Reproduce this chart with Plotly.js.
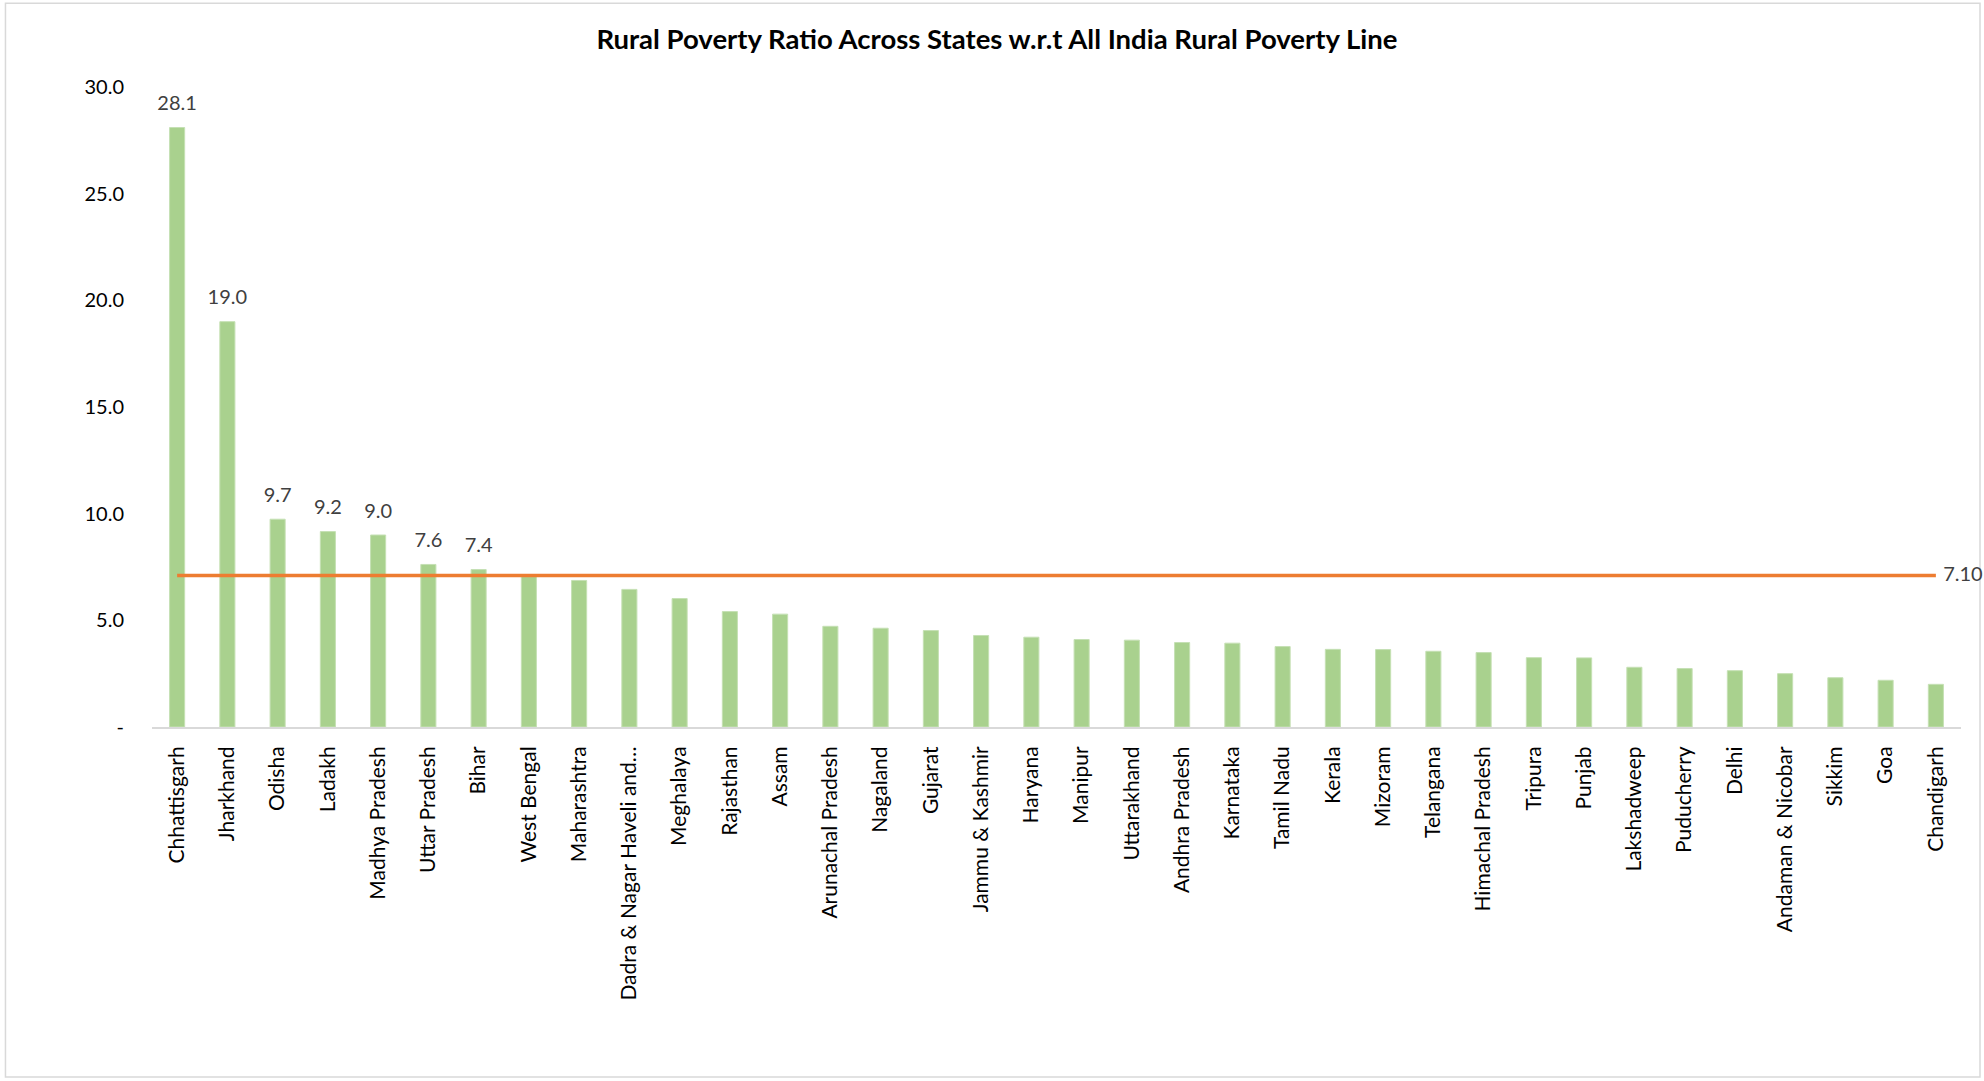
<!DOCTYPE html>
<html>
<head>
<meta charset="utf-8">
<script src="https://cdn.plot.ly/plotly-3.0.1.min.js"></script>
<style>
  html, body { margin: 0; padding: 0; background: #ffffff; }
  #chart { width: 1984px; height: 1081px; }
</style>
</head>
<body>
<div id="chart"></div>
<script>
// ---- Data ----
const states = [
  "Chhattisgarh", "Jharkhand", "Odisha", "Ladakh", "Madhya Pradesh", "Uttar Pradesh",
  "Bihar", "West Bengal", "Maharashtra", "Dadra & Nagar Haveli and Daman & Diu", "Meghalaya",
  "Rajasthan", "Assam", "Arunachal Pradesh", "Nagaland", "Gujarat", "Jammu & Kashmir",
  "Haryana", "Manipur", "Uttarakhand", "Andhra Pradesh", "Karnataka", "Tamil Nadu",
  "Kerala", "Mizoram", "Telangana", "Himachal Pradesh", "Tripura", "Punjab",
  "Lakshadweep", "Puducherry", "Delhi", "Andaman & Nicobar", "Sikkim", "Goa", "Chandigarh"
];
const tickLabels = [
  "Chhattisgarh", "Jharkhand", "Odisha", "Ladakh", "Madhya Pradesh", "Uttar Pradesh",
  "Bihar", "West Bengal", "Maharashtra", "Dadra & Nagar Haveli and…", "Meghalaya",
  "Rajasthan", "Assam", "Arunachal Pradesh", "Nagaland", "Gujarat", "Jammu & Kashmir",
  "Haryana", "Manipur", "Uttarakhand", "Andhra Pradesh", "Karnataka", "Tamil Nadu",
  "Kerala", "Mizoram", "Telangana", "Himachal Pradesh", "Tripura", "Punjab",
  "Lakshadweep", "Puducherry", "Delhi", "Andaman & Nicobar", "Sikkim", "Goa", "Chandigarh"
];
const ruralPovertyRatio = [
  28.1, 19.0, 9.74, 9.16, 9.0, 7.62,
  7.38, 7.05, 6.87, 6.45, 6.02,
  5.41, 5.29, 4.72, 4.63, 4.52, 4.29,
  4.21, 4.10, 4.07, 3.96, 3.93, 3.77,
  3.64, 3.63, 3.55, 3.49, 3.25, 3.24,
  2.80, 2.74, 2.64, 2.50, 2.31, 2.19, 2.00
];
const allIndiaRuralPovertyLine = 7.10;
const yTickVals = [0, 5, 10, 15, 20, 25, 30];
const yTickText = ["-", "5.0", "10.0", "15.0", "20.0", "25.0", "30.0"];
const titleText = "Rural Poverty Ratio Across States w.r.t All India Rural Poverty Line";

// ---- Chart ----
const FONT = "Lato, 'Open Sans', sans-serif";
const barLabels = ruralPovertyRatio.map(v => v > allIndiaRuralPovertyLine ? v.toFixed(1) : "");

const bars = {
  type: "bar",
  x: states,
  y: ruralPovertyRatio,
  marker: { color: "#A9D18E", line: { color: "#C5E0B4", width: 1 } },
  hoverinfo: "x+y",
  showlegend: false
};

const barLabelTrace = {
  type: "scatter",
  mode: "markers+text",
  x: states,
  y: ruralPovertyRatio,
  text: barLabels,
  textposition: "top center",
  textfont: { family: FONT, size: 20, color: "#404040" },
  marker: { size: 18, color: "rgba(0,0,0,0)" },
  cliponaxis: false,
  hoverinfo: "skip",
  showlegend: false
};

const lineTrace = {
  type: "scatter",
  mode: "lines+markers+text",
  x: [states[0], states[states.length - 1]],
  y: [allIndiaRuralPovertyLine, allIndiaRuralPovertyLine],
  line: { color: "#ED7D31", width: 3.5 },
  marker: { size: 10, color: "rgba(0,0,0,0)" },
  text: ["", allIndiaRuralPovertyLine.toFixed(2)],
  textposition: "middle right",
  textfont: { family: FONT, size: 20, color: "#404040" },
  cliponaxis: false,
  showlegend: false
};

const layout = {
  width: 1984,
  height: 1081,
  paper_bgcolor: "#ffffff",
  plot_bgcolor: "#ffffff",
  margin: { l: 152, r: 23, t: 87, b: 354, pad: 0 },
  bargap: 0.7,
  title: {
    text: "<b>" + titleText + "</b>",
    font: { family: FONT, size: 27.5, color: "#000000" },
    x: 0.5025, xanchor: "center",
    y: 1 - 39 / 1081, yanchor: "middle"
  },
  xaxis: {
    type: "category",
    tickmode: "array",
    tickvals: states,
    ticktext: tickLabels,
    tickangle: -90,
    tickfont: { family: FONT, size: 21, color: "#000000" },
    showgrid: false,
    showline: true,
    linecolor: "#D9D9D9",
    linewidth: 2,
    ticks: "outside",
    ticklen: 9,
    tickcolor: "rgba(0,0,0,0)",
    zeroline: false,
    range: [-0.5, states.length - 0.5]
  },
  yaxis: {
    range: [0, 30],
    tickmode: "array",
    tickvals: yTickVals,
    ticktext: yTickText,
    tickfont: { family: FONT, size: 20, color: "#000000" },
    showgrid: false,
    zeroline: false,
    showline: false,
    ticks: "outside",
    ticklen: 23,
    tickcolor: "rgba(0,0,0,0)"
  },
  shapes: [{
    type: "rect",
    xref: "paper", yref: "paper",
    x0: -0.0810, x1: 1.0105,
    y0: -0.547, y1: 1.131,
    line: { color: "#D9D9D9", width: 1.5 },
    fillcolor: "rgba(0,0,0,0)",
    layer: "below"
  }]
};

Plotly.newPlot("chart", [bars, barLabelTrace, lineTrace], layout, { displayModeBar: false, staticPlot: true });
</script>
</body>
</html>
